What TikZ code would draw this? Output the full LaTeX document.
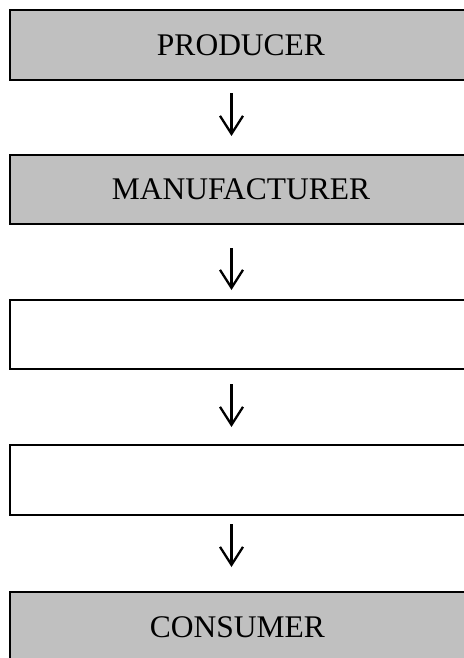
\documentclass[tikz,border=0pt]{standalone}
\usepackage{fontspec}
\setmainfont{Liberation Serif}
\usetikzlibrary{arrows.meta}
\definecolor{boxgray}{HTML}{C0C0C0}
\tikzset{
  stagebox/.style={draw=black, line width=2bp, minimum width=462bp, minimum height=70bp,
    inner sep=0pt, font=\fontsize{31.5bp}{38bp}\selectfont},
  graybox/.style={stagebox, fill=boxgray},
  whitebox/.style={stagebox, fill=white},
  flowarrow/.style={line width=2.3bp, -{Straight Barb[length=18bp,width=23bp,line width=2.3bp]}}
}
\begin{document}
\begin{tikzpicture}[x=1bp,y=-1bp]
\useasboundingbox (0,0) rectangle (464,658);
\clip (0,0) rectangle (464,658);
\node[graybox, minimum height=70bp] (p) at (241,45) {PRODUCER};
\node[graybox, minimum height=69bp] (m) at (241,189.5) {MANUFACTURER};
\node[whitebox, minimum height=69bp] (w1) at (241,334.5) {};
\node[whitebox, minimum height=70bp] (w2) at (241,480) {};
\node[graybox, minimum height=70bp] (c) at (241,627) {\hspace*{-7bp}CONSUMER};
\draw[flowarrow] ([xshift=-9.5bp,yshift=-12bp]p.south) -- ([xshift=-9.5bp,yshift=18bp]m.north);
\draw[flowarrow] ([xshift=-9.5bp,yshift=-23bp]m.south) -- ([xshift=-9.5bp,yshift=9bp]w1.north);
\draw[flowarrow] ([xshift=-9.5bp,yshift=-14bp]w1.south) -- ([xshift=-9.5bp,yshift=17bp]w2.north);
\draw[flowarrow] ([xshift=-9.5bp,yshift=-8bp]w2.south) -- ([xshift=-9.5bp,yshift=24bp]c.north);
\end{tikzpicture}
\end{document}
